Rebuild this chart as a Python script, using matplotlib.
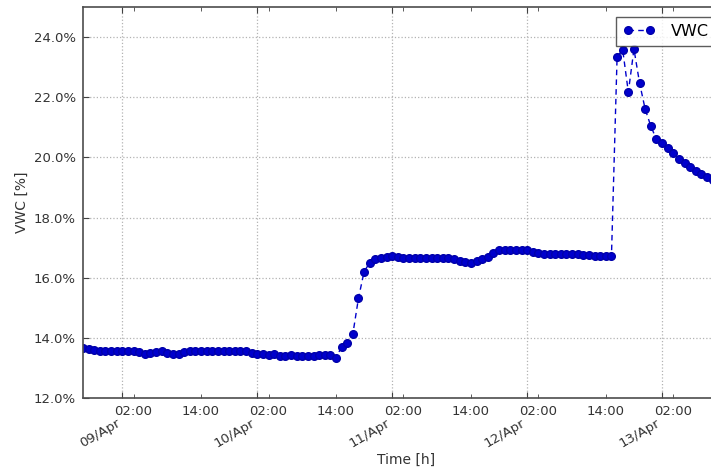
import matplotlib
matplotlib.use('Agg')
import matplotlib.pyplot as plt
import matplotlib.dates as mdates
from matplotlib.ticker import FormatStrFormatter
import pandas as pd

# hourly volumetric water content readings, starting 08/Apr 17:00
start = '2016-04-08 17:00'
vwc = [
    13.67, 13.63, 13.58, 13.55, 13.55, 13.55, 13.55, 13.56, 13.55, 13.55,
    13.52, 13.47, 13.50, 13.52, 13.55, 13.48, 13.46, 13.47, 13.52, 13.55,
    13.56, 13.57, 13.57, 13.56, 13.57, 13.57, 13.56, 13.55, 13.57, 13.56,
    13.50, 13.46, 13.45, 13.43, 13.45, 13.41, 13.40, 13.42, 13.40, 13.38,
    13.38, 13.39, 13.43, 13.44, 13.42, 13.34,
    13.70, 13.83, 14.13, 15.32, 16.20, 16.50, 16.62, 16.65, 16.68, 16.72,
    16.68, 16.67, 16.67, 16.66, 16.67, 16.66, 16.66, 16.65, 16.66, 16.65,
    16.62, 16.57, 16.53, 16.50, 16.55, 16.62, 16.70, 16.82, 16.92, 16.93,
    16.93, 16.93, 16.93, 16.93, 16.85, 16.83, 16.80, 16.80, 16.79, 16.80,
    16.80, 16.79, 16.78, 16.76, 16.74, 16.73, 16.72, 16.72, 16.73,
    23.35, 23.57, 22.17, 23.60, 22.47, 21.60, 21.04, 20.60, 20.49, 20.32,
    20.14, 19.94, 19.80, 19.68, 19.55, 19.45, 19.35, 19.25, 19.17, 19.10,
]
times = pd.date_range(start, periods=len(vwc), freq='h')

x_min = pd.Timestamp('2016-04-08 17:00')
x_max = pd.Timestamp('2016-04-13 12:05')
y_ticks = [12, 14, 16, 18, 20, 22, 24]

fig = plt.figure(figsize=(7.11, 4.74), dpi=100)
# right edge of the axes runs past the figure border
ax = fig.add_axes([83 / 711, 76 / 474, 647 / 711, 391 / 474])

ax.plot(times, vwc, 'o--', color='#0000cc', markeredgecolor='#0000aa',
        markersize=5.5, linewidth=1.0, dashes=(4, 3), label='VWC')

ax.set_xlim(x_min, x_max)
ax.set_ylim(12, 25)
ax.set_yticks(y_ticks)
ax.yaxis.set_major_formatter(FormatStrFormatter('%.1f%%'))

ax.xaxis.set_major_locator(mdates.DayLocator())
ax.xaxis.set_major_formatter(mdates.DateFormatter('%d/%b'))
ax.xaxis.set_minor_locator(mdates.HourLocator(byhour=[2, 14]))
ax.xaxis.set_minor_formatter(mdates.DateFormatter('%H:%M'))

ax.tick_params(axis='both', which='both', direction='in', top=True,
               right=True, colors='0.25', labelcolor='0.2', labelsize=9.5)
ax.tick_params(axis='x', which='major', pad=13, length=4)
ax.tick_params(axis='x', which='minor', pad=5, length=3)
ax.tick_params(axis='y', which='major', pad=5, length=4)
for lbl in ax.get_xticklabels(which='major'):
    lbl.set_rotation(30)
    lbl.set_ha('right')

ax.grid(True, which='major', linestyle=':', color='0.7', linewidth=0.9)

for s in ax.spines.values():
    s.set_color('0.3')
    s.set_linewidth(1.2)

ax.set_xlabel('Time [h]', fontsize=10, color='0.2', labelpad=2)
ax.set_ylabel('VWC [%]', fontsize=10, color='0.2', labelpad=4)

leg = ax.legend(loc='upper right', bbox_to_anchor=(0.993, 1.0), numpoints=2,
                fancybox=False, fontsize=11.5, borderaxespad=0.6,
                borderpad=0.45, handlelength=2.0, handletextpad=1.0)
leg.get_frame().set_edgecolor('0.2')
leg.get_frame().set_linewidth(1.0)

fig.savefig('out.png', dpi=100)
